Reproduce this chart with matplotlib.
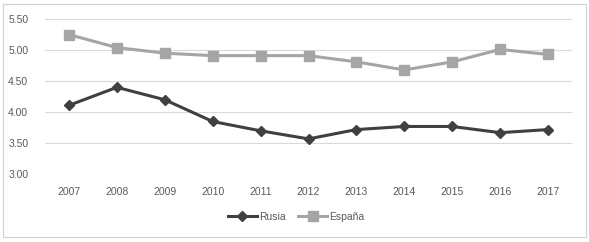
import matplotlib.pyplot as plt
from matplotlib.patches import Rectangle

years = ['2007', '2008', '2009', '2010', '2011', '2012', '2013', '2014', '2015', '2016', '2017']
rusia = [4.11, 4.40, 4.20, 3.85, 3.70, 3.57, 3.72, 3.77, 3.77, 3.67, 3.72]
espana = [5.25, 5.04, 4.95, 4.91, 4.91, 4.91, 4.81, 4.68, 4.81, 5.01, 4.93]
yticks = [3.00, 3.50, 4.00, 4.50, 5.00, 5.50]

plt.rcParams['font.family'] = ['Liberation Sans', 'DejaVu Sans']

fig = plt.figure(figsize=(5.89, 2.42), dpi=100)
ax = fig.add_axes([45 / 589, 1 - 174.3 / 242, 527 / 589, (174.3 - 19) / 242])

# outer frame like the excel chart area
fig.patches.append(Rectangle((3 / 589, 5 / 242), 583 / 589, 233 / 242, transform=fig.transFigure,
                             fill=False, edgecolor='#d0d0d0', linewidth=0.8))

x = range(len(years))
ax.plot(x, rusia, color='#404040', lw=2.2, marker='D', ms=5, label='Rusia', zorder=3)
ax.plot(x, espana, color='#a5a5a5', lw=2.2, marker='s', ms=6.5, label='España', zorder=3)

ax.set_xlim(-0.5, len(years) - 0.5)
ax.set_ylim(3.0, 5.5)
ax.set_yticks(yticks)
ax.set_yticklabels(['%.2f' % v for v in yticks])
ax.set_xticks(list(x))
ax.set_xticklabels(years)
ax.grid(axis='y', color='#d9d9d9', lw=0.8)
ax.set_axisbelow(True)
for s in ax.spines.values():
    s.set_visible(False)
ax.tick_params(length=0, labelsize=7.5, colors='#595959')
ax.tick_params(axis='y', pad=12)
ax.tick_params(axis='x', pad=9)

fig.legend(loc='center', bbox_to_anchor=(296 / 589, 1 - 217 / 242), ncol=2, frameon=False,
           fontsize=7.5, handlelength=2.8, columnspacing=1.2, handletextpad=0.2,
           labelcolor='#595959')

fig.savefig('out.png', dpi=100)
